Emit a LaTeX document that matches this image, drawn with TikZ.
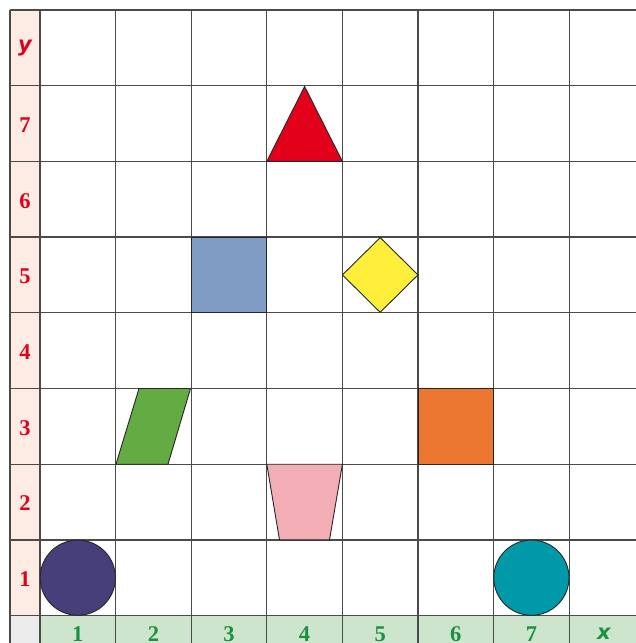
\documentclass[tikz,border=0pt]{standalone}
\usepackage{fontspec}
\setmainfont{Liberation Serif}
\newfontfamily\labfont{DejaVu Sans}
\definecolor{labred}{HTML}{E2001A}
\definecolor{labgreen}{HTML}{1A9240}
\definecolor{pinkcol}{HTML}{FDECE4}
\definecolor{greenrow}{HTML}{CDE5CD}
\definecolor{cornergray}{HTML}{ECECEC}
\definecolor{gridc}{HTML}{4A4A4A}
\definecolor{navy}{HTML}{463F7A}
\definecolor{teal}{HTML}{0099AA}
\definecolor{tri}{HTML}{E2001A}
\definecolor{bluesq}{HTML}{819CC4}
\definecolor{yel}{HTML}{FFEF3A}
\definecolor{grn}{HTML}{63AC43}
\definecolor{org}{HTML}{EC7730}
\definecolor{pnk}{HTML}{F2ADB5}
\begin{document}
\begin{tikzpicture}[x=1pt,y=-1pt,
  gridline/.style={draw=gridc,line width=1.3pt},
  shapeline/.style={draw=black!85,line width=0.9pt},
  ylab/.style={text=labred,font=\bfseries\fontsize{22.5}{22.5}\selectfont,inner sep=0pt},
  xlab/.style={text=labgreen,font=\bfseries\fontsize{22.5}{22.5}\selectfont,inner sep=0pt}]
\useasboundingbox (0,0) rectangle (636,643);
% backgrounds
\fill[pinkcol] (10,10) rectangle (40,616);
\fill[greenrow] (40,616) rectangle (636,643);
\fill[cornergray] (10,616) rectangle (40,643);
% grid
\foreach \gx in {40,115.6,191.2,266.8,342.4,418,493.6,569.2}
  \draw[gridline] (\gx,10) -- (\gx,643);
\draw[gridline] (10,10) -- (10,643);
\foreach \gy in {10,85.7,161.4,237.1,312.8,388.5,464.2,539.9,615.6}
  \draw[gridline] (10,\gy) -- (636,\gy);
% row labels
\node[ylab,font=\labfont\bfseries\itshape\fontsize{21}{21}\selectfont] (ly) at (25,48) {y};
\foreach \n/\gy in {7/123.5,6/199.2,5/274.9,4/350.6,3/426.3,2/502,1/577.7}
  \node[ylab] (r\n) at (25,\gy+1.5) {\n};
% column labels
\foreach \n/\gx in {1/77.8,2/153.4,3/229,4/304.6,5/380.2,6/455.8,7/531.4}
  \node[xlab] (c\n) at (\gx,634) {\n};
\node[xlab,font=\labfont\bfseries\itshape\fontsize{21}{21}\selectfont] (lx) at (604,634) {x};
% shapes
\draw[shapeline,fill=navy] (77.8,577.7) circle (37.6);
\draw[shapeline,fill=teal] (531.4,577.7) circle (37.6);
\draw[shapeline,fill=tri] (304.6,86.5) -- (342.4,161.4) -- (266.8,161.4) -- cycle;
\draw[shapeline,fill=bluesq] (191.2,237.1) rectangle (266.8,312.8);
\draw[shapeline,fill=yel] (380.2,237.6) -- (418,274.9) -- (380.2,312.3) -- (342.4,274.9) -- cycle;
\draw[shapeline,fill=grn] (139,388.5) -- (190.5,388.5) -- (168,464.2) -- (116,464.2) -- cycle;
\draw[shapeline,fill=org] (418,388.5) rectangle (493.6,464.2);
\draw[shapeline,fill=pnk] (266.8,464.2) -- (342.4,464.2) -- (329.5,539.9) -- (279.5,539.9) -- cycle;
\end{tikzpicture}
\end{document}
